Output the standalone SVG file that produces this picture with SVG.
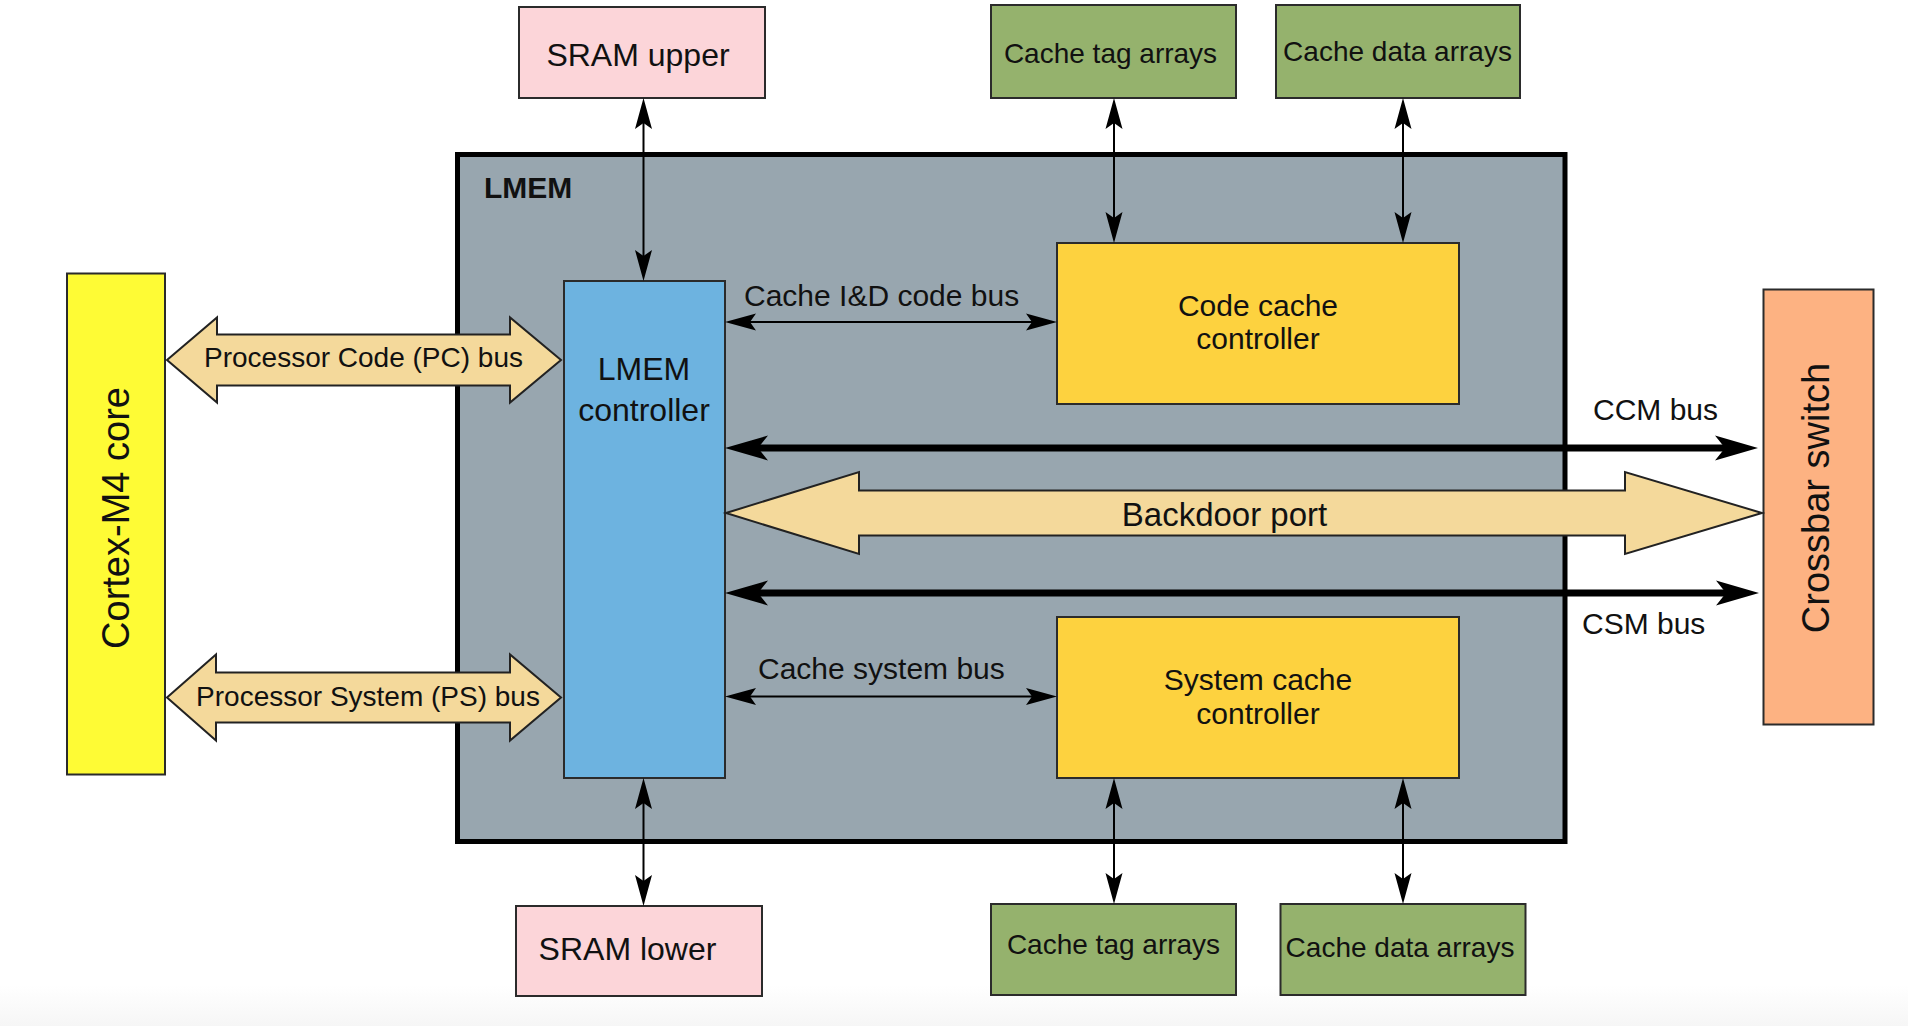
<svg xmlns="http://www.w3.org/2000/svg" width="1908" height="1026" viewBox="0 0 1908 1026">
<style>
text{font-family:"Liberation Sans",Arial,sans-serif;fill:#111}
.box{stroke:#2b2b2b;stroke-width:2}
.sram{fill:#FCD5D9}
.green{fill:#95B26D}
.cc{fill:#FDD23F}
.fat{fill:#F4D99B;stroke:#222;stroke-width:2}
.thin{stroke:#000;stroke-width:2;fill:none;marker-start:url(#ah);marker-end:url(#ah)}
.thick{stroke:#000;stroke-width:7;fill:none;marker-start:url(#ahb);marker-end:url(#ahb)}
.lbl{font-size:30px}
.arr{font-size:28px;text-anchor:middle}
.mid{text-anchor:middle}
</style>
<defs>
<linearGradient id="bg" x1="0" y1="0" x2="0" y2="1">
<stop offset="0" stop-color="#ffffff"/>
<stop offset="1" stop-color="#f6f6f6"/>
</linearGradient>
<marker id="ah" viewBox="-20 -15 55 30" refX="0" refY="0" markerWidth="55" markerHeight="30" markerUnits="userSpaceOnUse" orient="auto-start-reverse" overflow="visible">
<path d="M20,0 L-11,-8.5 L-5,0 L-11,8.5 Z" fill="#000"/>
</marker>
<marker id="ahb" viewBox="-20 -15 55 30" refX="0" refY="0" markerWidth="55" markerHeight="30" markerUnits="userSpaceOnUse" orient="auto-start-reverse" overflow="visible">
<path d="M30,0 L-13,-12.5 L-3,0 L-13,12.5 Z" fill="#000"/>
</marker>
</defs>
<rect x="0" y="0" width="1908" height="1026" fill="#fff"/>
<rect x="0" y="985" width="1908" height="41" fill="url(#bg)"/>

<g id="lmem">
<rect x="457.5" y="154.5" width="1107.5" height="687" fill="#98A6AF" stroke="#000" stroke-width="5"/>
<text x="484" y="198" font-size="30" font-weight="bold">LMEM</text>
</g>

<g id="cortex">
<rect class="box" x="67" y="273.5" width="98" height="501" fill="#FEFB35" stroke-width="3"/>
<text class="mid" x="129" y="518" font-size="38" transform="rotate(-90 129 518)">Cortex-M4 core</text>
</g>

<g id="crossbar">
<rect class="box" x="1763.5" y="289.5" width="110" height="435" fill="#FDB282" stroke-width="3"/>
<text class="mid" x="1829" y="498" font-size="38" transform="rotate(-90 1829 498)">Crossbar switch</text>
</g>

<g id="sram-upper">
<rect class="box sram" x="519" y="7" width="246" height="91"/>
<text class="mid" x="638" y="66" font-size="32">SRAM upper</text>
</g>
<g id="sram-lower">
<rect class="box sram" x="516" y="906" width="246" height="90"/>
<text class="mid" x="627.5" y="960" font-size="32">SRAM lower</text>
</g>

<g id="tag-top">
<rect class="box green" x="991" y="5" width="245" height="93"/>
<text class="mid" x="1110.5" y="63" font-size="28">Cache tag arrays</text>
</g>
<g id="data-top">
<rect class="box green" x="1276" y="5" width="244" height="93"/>
<text class="mid" x="1397.5" y="61" font-size="28">Cache data arrays</text>
</g>
<g id="tag-bottom">
<rect class="box green" x="991" y="904" width="245" height="91"/>
<text class="mid" x="1113.5" y="954" font-size="28">Cache tag arrays</text>
</g>
<g id="data-bottom">
<rect class="box green" x="1280.5" y="904" width="245" height="91"/>
<text class="mid" x="1400" y="957" font-size="28">Cache data arrays</text>
</g>

<g id="code-cache">
<rect class="box cc" x="1057" y="243" width="402" height="161"/>
<text class="mid" x="1258" y="316" font-size="30">Code cache</text>
<text class="mid" x="1258" y="349" font-size="30">controller</text>
</g>
<g id="system-cache">
<rect class="box cc" x="1057" y="617" width="402" height="161"/>
<text class="mid" x="1258" y="690" font-size="30">System cache</text>
<text class="mid" x="1258" y="724" font-size="30">controller</text>
</g>

<g id="lmem-controller">
<rect class="box" x="564" y="281" width="161" height="497" fill="#6DB3E0"/>
<text class="mid" x="644" y="380" font-size="32">LMEM</text>
<text class="mid" x="644" y="421" font-size="32">controller</text>
</g>

<g id="connectors">
<polygon class="fat" points="167,360 217,317.5 217,334.5 510,334.5 510,317.5 561,360 510,402.5 510,385.5 217,385.5 217,402.5"/>
<text class="arr" x="363.5" y="367">Processor Code (PC) bus</text>
<polygon class="fat" points="167,697.5 216,654.5 216,672.5 510,672.5 510,654.5 561,697.5 510,740.5 510,722.5 216,722.5 216,740.5"/>
<text class="arr" x="368" y="706">Processor System (PS) bus</text>
<polygon class="fat" stroke-width="2.5" points="726,513 859,472 859,490.5 1625,490.5 1625,472 1762,513 1625,554 1625,535.5 859,535.5 859,554"/>
<text class="mid" x="1224.5" y="526" font-size="33">Backdoor port</text>

<line class="thin" x1="643.5" y1="118" x2="643.5" y2="261"/>
<line class="thin" x1="643.5" y1="798" x2="643.5" y2="886"/>
<line class="thin" x1="1114" y1="118" x2="1114" y2="223"/>
<line class="thin" x1="1403" y1="118" x2="1403" y2="223"/>
<line class="thin" x1="1114" y1="798" x2="1114" y2="884"/>
<line class="thin" x1="1403" y1="798" x2="1403" y2="884"/>
<line class="thin" x1="745" y1="322" x2="1037" y2="322"/>
<text class="lbl" x="744" y="306">Cache I&amp;D code bus</text>
<line class="thin" x1="745" y1="696.5" x2="1037" y2="696.5"/>
<text class="lbl" x="758" y="679">Cache system bus</text>

<line class="thick" x1="755" y1="448" x2="1728" y2="448"/>
<text class="lbl" x="1593" y="420">CCM bus</text>
<line class="thick" x1="755" y1="593" x2="1729" y2="593"/>
<text class="lbl" x="1582" y="634">CSM bus</text>
</g>
</svg>
